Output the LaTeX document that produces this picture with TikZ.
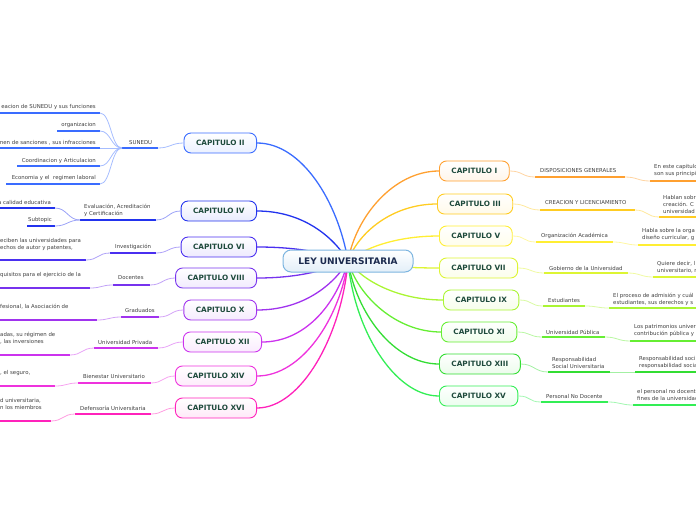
\documentclass[tikz,border=0pt]{standalone}
\usepackage{fontspec}
\setmainfont{DejaVu Sans}
\definecolor{rootblue}{HTML}{7DB5E0}
\definecolor{rootnavy}{HTML}{1B2A4E}
\definecolor{chaptext}{HTML}{1E4A3C}
\definecolor{colII}{HTML}{3A6CFF}
\definecolor{colIV}{HTML}{2233EE}
\definecolor{colVI}{HTML}{4A2FF0}
\definecolor{colVIII}{HTML}{7733EE}
\definecolor{colX}{HTML}{A033EE}
\definecolor{colXII}{HTML}{CC33EE}
\definecolor{colXIV}{HTML}{EE33DD}
\definecolor{colXVI}{HTML}{FF22BB}
\definecolor{colI}{HTML}{FFA030}
\definecolor{colIII}{HTML}{FFCC22}
\definecolor{colV}{HTML}{FFEE33}
\definecolor{colVII}{HTML}{DDF533}
\definecolor{colIX}{HTML}{AAF533}
\definecolor{colXI}{HTML}{66EE33}
\definecolor{colXIII}{HTML}{33DD33}
\definecolor{colXV}{HTML}{33EE55}

\begin{document}
\begin{tikzpicture}[
        x=1pt, y=-1pt,
        every node/.style={inner sep=0pt, text=black!75, font=\fontsize{5.4}{7}\selectfont},
        root/.style={draw=rootblue, line width=1pt, rounded corners=8pt, top color=white, bottom color=rootblue!22, minimum width=130pt, minimum height=22pt, text=rootnavy, font=\fontsize{9}{10}\selectfont\bfseries},
        chapter/.style={draw=#1, line width=0.9pt, rounded corners=7pt, top color=white, bottom color=#1!10, inner xsep=12pt, minimum height=20pt, text=chaptext, font=\fontsize{7.3}{8}\selectfont\bfseries},
        branch/.style={draw=#1, line width=1.3pt},
        twig/.style={draw=#1!45, line width=0.8pt},
        uline/.style={draw=#1, line width=1.6pt},
        topic/.style={align=left}
    ]
        \clip (0,0) rectangle (696,520);
        \coordinate (hub) at (348,261);

        % Chapters, left
        \node[chapter=colII, anchor=east] (capII) at (257,143) {CAPITULO II};
        \node[chapter=colIV, anchor=east] (capIV) at (257,211) {CAPITULO IV};
        \node[chapter=colVI, anchor=east] (capVI) at (257,247) {CAPITULO VI};
        \node[chapter=colVIII, anchor=east] (capVIII) at (257,278) {CAPITULO VIII};
        \node[chapter=colX, anchor=east] (capX) at (257,310) {CAPITULO X};
        \node[chapter=colXII, anchor=east] (capXII) at (262,342) {CAPITULO XII};
        \node[chapter=colXIV, anchor=east] (capXIV) at (257,376) {CAPITULO XIV};
        \node[chapter=colXVI, anchor=east] (capXVI) at (257,408) {CAPITULO XVI};

        % Chapters, right
        \node[chapter=colI, anchor=west] (capI) at (439,171) {CAPITULO I};
        \node[chapter=colIII, anchor=west] (capIII) at (437,204) {CAPITULO III};
        \node[chapter=colV, anchor=west] (capV) at (439,236) {CAPITULO V};
        \node[chapter=colVII, anchor=west] (capVII) at (439,268) {CAPITULO VII};
        \node[chapter=colIX, anchor=west] (capIX) at (443,300) {CAPITULO IX};
        \node[chapter=colXI, anchor=west] (capXI) at (441,332) {CAPITULO XI};
        \node[chapter=colXIII, anchor=west] (capXIII) at (439,364) {CAPITULO XIII};
        \node[chapter=colXV, anchor=west] (capXV) at (439,396) {CAPITULO XV};

        % Branches from the centre
        \draw[branch=colII] (hub) .. controls +(-10,-59) and +(45,0) .. (capII.east);
        \draw[branch=colIV] (hub) .. controls +(-15,-25) and +(45,0) .. (capIV.east);
        \draw[branch=colVI] (hub) .. controls +(-20,-7) and +(45,0) .. (capVI.east);
        \draw[branch=colVIII] (hub) .. controls +(-20,8) and +(45,0) .. (capVIII.east);
        \draw[branch=colX] (hub) .. controls +(-15,25) and +(45,0) .. (capX.east);
        \draw[branch=colXII] (hub) .. controls +(-10,40) and +(45,0) .. (capXII.east);
        \draw[branch=colXIV] (hub) .. controls +(-8,57) and +(45,0) .. (capXIV.east);
        \draw[branch=colXVI] (hub) .. controls +(-6,73) and +(45,0) .. (capXVI.east);
        \draw[branch=colI] (hub) .. controls +(8,-45) and +(-45,0) .. (capI.west);
        \draw[branch=colIII] (hub) .. controls +(10,-28) and +(-45,0) .. (capIII.west);
        \draw[branch=colV] (hub) .. controls +(15,-12) and +(-45,0) .. (capV.west);
        \draw[branch=colVII] (hub) .. controls +(20,3) and +(-45,0) .. (capVII.west);
        \draw[branch=colIX] (hub) .. controls +(15,20) and +(-45,0) .. (capIX.west);
        \draw[branch=colXI] (hub) .. controls +(10,35) and +(-45,0) .. (capXI.west);
        \draw[branch=colXIII] (hub) .. controls +(8,52) and +(-45,0) .. (capXIII.west);
        \draw[branch=colXV] (hub) .. controls +(6,68) and +(-45,0) .. (capXV.west);

        \node[root] (ley) at (hub) {LEY UNIVERSITARIA};

        % CAPITULO II
        \node[anchor=west] (sunedu) at (129,143) {SUNEDU};
        \draw[uline=colII] (122,148) coordinate (sunL) -- (158,148) coordinate (sunR);
        \draw[twig=colII] (capII.west) .. controls +(-12,0) and +(12,0) .. (sunR);
        \node[anchor=east] (sun1) at (96,107) {eacion de SUNEDU y sus funciones};
        \node[anchor=east] (sun2) at (96,125) {organizacion};
        \node[anchor=east] (sun3) at (96,143) {men de sanciones , sus infracciones};
        \node[anchor=east] (sun4) at (96,161) {Coordinacion y Articulacion};
        \node[anchor=east] (sun5) at (96,178) {Economia y el\ \ regimen laboral};
        \draw[uline=colII] (0,113) -- (100,113) coordinate (sun1R);
        \draw[uline=colII] (57,131) -- (100,131) coordinate (sun2R);
        \draw[uline=colII] (0,148) -- (100,148) coordinate (sun3R);
        \draw[uline=colII] (17,166) -- (100,166) coordinate (sun4R);
        \draw[uline=colII] (6,184) -- (100,184) coordinate (sun5R);
        \draw[twig=colII] (sunL) .. controls +(-11,0) and +(11,0) .. (sun1R);
        \draw[twig=colII] (sunL) .. controls +(-11,0) and +(11,0) .. (sun2R);
        \draw[twig=colII] (sunL) .. controls +(-11,0) and +(11,0) .. (sun3R);
        \draw[twig=colII] (sunL) .. controls +(-11,0) and +(11,0) .. (sun4R);
        \draw[twig=colII] (sunL) .. controls +(-11,0) and +(11,0) .. (sun5R);

        % CAPITULO IV
        \node[anchor=west, topic] (evalua) at (84,210.5) {Evaluación, Acreditación\\y Certificación};
        \draw[uline=colIV] (80,220) coordinate (evaL) -- (156,220) coordinate (evaR);
        \draw[twig=colIV] (capIV.west) .. controls +(-12,0) and +(12,0) .. (evaR);
        \node[anchor=east] (eva1) at (51,202) {a calidad educativa};
        \node[anchor=east] (eva2) at (52,220) {Subtopic};
        \draw[uline=colIV] (0,208) -- (55,208) coordinate (eva1R);
        \draw[uline=colIV] (27,226) -- (55,226) coordinate (eva2R);
        \draw[twig=colIV] (evaL) .. controls +(-12,0) and +(12,0) .. (eva1R);
        \draw[twig=colIV] (evaL) .. controls +(-12,0) and +(12,0) .. (eva2R);

        % CAPITULO VI
        \node[anchor=west] (investiga) at (115,247) {Investigación};
        \draw[uline=colVI] (110,253) coordinate (invL) -- (156,253) coordinate (invR);
        \draw[twig=colVI] (capVI.west) .. controls +(-12,0) and +(12,0) .. (invR);
        \node[anchor=west, topic] (inv1) at (0,244.5) {eciben las universidades para\\echos de autor y patentes,};
        \draw[uline=colVI] (0,260) -- (86,260) coordinate (inv1R);
        \draw[twig=colVI] (invL) .. controls +(-12,0) and +(12,0) .. (inv1R);

        % CAPITULO VIII
        \node[anchor=west] (docentes) at (118,278) {Docentes};
        \draw[uline=colVIII] (113,285) coordinate (docL) -- (150,285) coordinate (docR);
        \draw[twig=colVIII] (capVIII.west) .. controls +(-12,0) and +(12,0) .. (docR);
        \node[anchor=west] (doc1) at (0,275) {quisitos para el ejercicio de la};
        \draw[uline=colVIII] (0,288) -- (90,288) coordinate (doc1R);
        \draw[twig=colVIII] (docL) .. controls +(-12,0) and +(12,0) .. (doc1R);

        % CAPITULO X
        \node[anchor=west] (graduados) at (125,310) {Graduados};
        \draw[uline=colX] (121,317) coordinate (graL) -- (159,317) coordinate (graR);
        \draw[twig=colX] (capX.west) .. controls +(-12,0) and +(12,0) .. (graR);
        \node[anchor=west] (gra1) at (0,307) {fesional, la Asociación de};
        \draw[uline=colX] (0,320) -- (97,320) coordinate (gra1R);
        \draw[twig=colX] (graL) .. controls +(-12,0) and +(12,0) .. (gra1R);

        % CAPITULO XII
        \node[anchor=west] (privada) at (98,342) {Universidad Privada};
        \draw[uline=colXII] (94,348) coordinate (priL) -- (158,348) coordinate (priR);
        \draw[twig=colXII] (capXII.west) .. controls +(-12,0) and +(12,0) .. (priR);
        \node[anchor=west, topic] (pri1) at (0,338) {adas, su régimen de\\, las inversiones};
        \draw[uline=colXII] (0,355) -- (70,355) coordinate (pri1R);
        \draw[twig=colXII] (priL) .. controls +(-12,0) and +(12,0) .. (pri1R);

        % CAPITULO XIV
        \node[anchor=west] (bienestar) at (83,376) {Bienestar Universitario};
        \draw[uline=colXIV] (78,383) coordinate (bieL) -- (151,383) coordinate (bieR);
        \draw[twig=colXIV] (capXIV.west) .. controls +(-12,0) and +(12,0) .. (bieR);
        \node[anchor=west] (bie1) at (0,373) {, el seguro,};
        \draw[uline=colXIV] (0,386) -- (55,386) coordinate (bie1R);
        \draw[twig=colXIV] (bieL) .. controls +(-12,0) and +(12,0) .. (bie1R);

        % CAPITULO XVI
        \node[anchor=west] (defensoria) at (80,408) {Defensoría Universitaria};
        \draw[uline=colXVI] (75,414) coordinate (defL) -- (151,414) coordinate (defR);
        \draw[twig=colXVI] (capXVI.west) .. controls +(-12,0) and +(12,0) .. (defR);
        \node[anchor=west, topic] (def1) at (0,404) {d universitaria,\\n los miembros};
        \draw[uline=colXVI] (0,421) -- (51,421) coordinate (def1R);
        \draw[twig=colXVI] (defL) .. controls +(-12,0) and +(12,0) .. (def1R);

        % CAPITULO I
        \node[anchor=west] (disposic) at (540,171) {DISPOSICIONES GENERALES};
        \draw[uline=colI] (535,177) coordinate (disL) -- (625,177) coordinate (disR);
        \draw[twig=colI] (capI.east) .. controls +(13,0) and +(-13,0) .. (disL);
        \node[anchor=west, topic] (dis1) at (654,171) {En este capitulo\\son sus principi};
        \draw[uline=colI] (650,181) coordinate (dis1L) -- (696,181);
        \draw[twig=colI] (disR) .. controls +(12,0) and +(-12,0) .. (dis1L);

        % CAPITULO III
        \node[anchor=west] (creacion) at (545,203) {CREACION Y LICENCIAMIENTO};
        \draw[uline=colIII] (540,210) coordinate (creL) -- (635,210) coordinate (creR);
        \draw[twig=colIII] (capIII.east) .. controls +(13,0) and +(-13,0) .. (creL);
        \node[anchor=west, topic] (cre1) at (663,204.5) {Hablan sobr\\creación. C\\universidad};
        \draw[uline=colIII] (659,217) coordinate (cre1L) -- (696,217);
        \draw[twig=colIII] (creR) .. controls +(12,0) and +(-12,0) .. (cre1L);

        % CAPITULO V
        \node[anchor=west] (organiza) at (541,236) {Organización Académica};
        \draw[uline=colV] (536,242) coordinate (orgL) -- (613,242) coordinate (orgR);
        \draw[twig=colV] (capV.east) .. controls +(13,0) and +(-13,0) .. (orgL);
        \node[anchor=west, topic] (org1) at (642,235) {Habla sobre la orga\\diseño curricular, g};
        \draw[uline=colV] (638,245) coordinate (org1L) -- (696,245);
        \draw[twig=colV] (orgR) .. controls +(12,0) and +(-12,0) .. (org1L);

        % CAPITULO VII
        \node[anchor=west] (gobierno) at (549,268) {Gobierno de la Universidad};
        \draw[uline=colVII] (544,273) coordinate (gobL) -- (628,273) coordinate (gobR);
        \draw[twig=colVII] (capVII.east) .. controls +(13,0) and +(-13,0) .. (gobL);
        \node[anchor=west, topic] (gob1) at (657,267) {Quiere decir, l\\universitario, r};
        \draw[uline=colVII] (653,277) coordinate (gob1L) -- (696,277);
        \draw[twig=colVII] (gobR) .. controls +(12,0) and +(-12,0) .. (gob1L);

        % CAPITULO IX
        \node[anchor=west] (estudian) at (548,300) {Estudiantes};
        \draw[uline=colIX] (543,306) coordinate (estL) -- (585,306) coordinate (estR);
        \draw[twig=colIX] (capIX.east) .. controls +(13,0) and +(-13,0) .. (estL);
        \node[anchor=west, topic] (est1) at (613,299.5) {El proceso de admisión y cuál\\estudiantes, sus derechos y s};
        \draw[uline=colIX] (609,308) coordinate (est1L) -- (696,308);
        \draw[twig=colIX] (estR) .. controls +(12,0) and +(-12,0) .. (est1L);

        % CAPITULO XI
        \node[anchor=west] (publica) at (546,332) {Universidad Pública};
        \draw[uline=colXI] (542,337) coordinate (pubL) -- (605,337) coordinate (pubR);
        \draw[twig=colXI] (capXI.east) .. controls +(13,0) and +(-13,0) .. (pubL);
        \node[anchor=west, topic] (pub1) at (634,331) {Los patrimonios univer\\contribución pública y};
        \draw[uline=colXI] (630,341) coordinate (pub1L) -- (696,341);
        \draw[twig=colXI] (pubR) .. controls +(12,0) and +(-12,0) .. (pub1L);

        % CAPITULO XIII
        \node[anchor=west, topic] (respons) at (552,363) {Responsabilidad\\Social Universitaria};
        \draw[uline=colXIII] (548,372) coordinate (resL) -- (610,372) coordinate (resR);
        \draw[twig=colXIII] (capXIII.east) .. controls +(13,0) and +(-13,0) .. (resL);
        \node[anchor=west, topic] (res1) at (639,363) {Responsabilidad soci\\responsabilidad socia};
        \draw[uline=colXIII] (635,372) coordinate (res1L) -- (696,372);
        \draw[twig=colXIII] (resR) .. controls +(12,0) and +(-12,0) .. (res1L);

        % CAPITULO XV
        \node[anchor=west] (personal) at (546,396) {Personal No Docente};
        \draw[uline=colXV] (541,402) coordinate (perL) -- (608,402) coordinate (perR);
        \draw[twig=colXV] (capXV.east) .. controls +(13,0) and +(-13,0) .. (perL);
        \node[anchor=west, topic] (per1) at (637,394.5) {el personal no docent\\fines de la universidad};
        \draw[uline=colXV] (633,405) coordinate (per1L) -- (696,405);
        \draw[twig=colXV] (perR) .. controls +(12,0) and +(-12,0) .. (per1L);
    \end{tikzpicture}
\end{document}
